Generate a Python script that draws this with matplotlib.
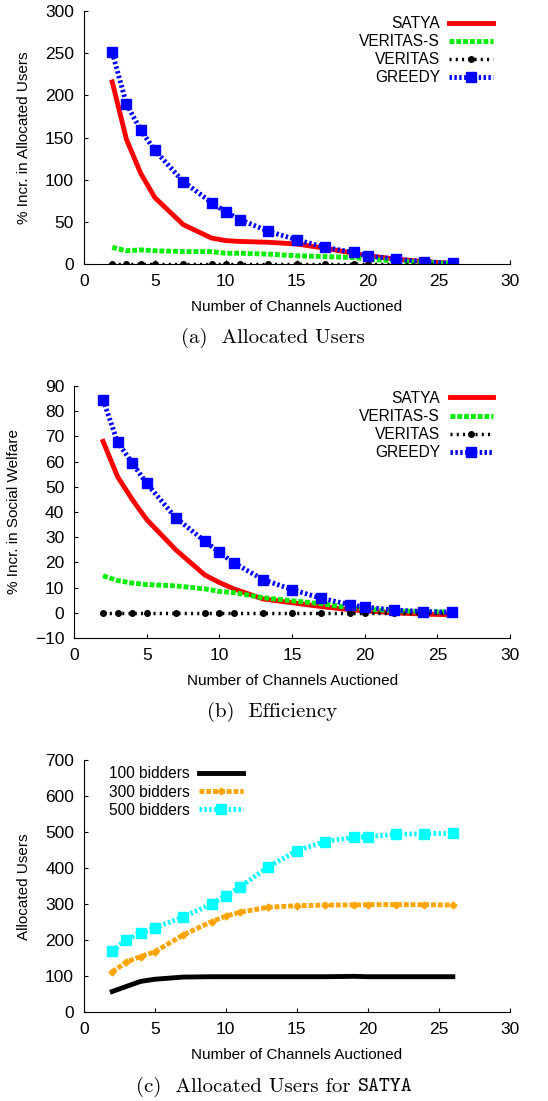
import numpy as np
import matplotlib
matplotlib.use("Agg")
import matplotlib.pyplot as plt

plt.rcParams['font.family'] = ['Liberation Sans', 'DejaVu Sans']

# channels auctioned (x axis, shared)
channels = [2, 3, 4, 5, 7, 9, 10, 11, 13, 15, 17, 19, 20, 22, 24, 26]

# (a) % increase in allocated users
users_satya = [216, 148, 108, 79, 47, 31, 28, 27, 26, 24, 19, 13, 10, 6, 3, 1]
users_veritas_s = [20, 16, 17, 16, 15, 15, 13, 13, 12, 10, 9, 8, 6, 4, 2, 1]
users_veritas = [0] * 16
users_greedy = [251, 190, 159, 135, 98, 73, 62, 53, 39, 29, 20, 14, 10, 6, 3, 1]

# (b) % increase in social welfare
welfare_satya = [68, 54, 45, 37, 25, 15, 12, 9.5, 5.5, 4, 2.5, 1.2, 0.8, 0, -0.5, -0.8]
welfare_veritas_s = [14.7, 12.8, 11.8, 11.2, 10.7, 9.5, 8.5, 8, 6, 4.8, 3.6, 2, 1.5, 0.8, 0.5, 0.3]
welfare_veritas = [0] * 16
welfare_greedy = [84.5, 67.7, 59.5, 51.3, 37.7, 28.4, 24, 19.8, 13.2, 9.2, 5.8, 3.2, 2.3, 1.1, 0.5, 0.2]

# (c) allocated users for SATYA
bid100 = [58, 72, 86, 92, 98, 99, 99, 99, 99, 99, 99, 100, 99, 99, 99, 99]
bid300 = [112, 140, 155, 168, 215, 252, 267, 278, 292, 296, 298, 298, 299, 299, 299, 298]
bid500 = [170, 202, 220, 235, 265, 301, 324, 348, 404, 449, 474, 486, 488, 494, 496, 497]

fig = plt.figure(figsize=(5.48, 11.01), dpi=100)

def style_axes(ax, ymin, ymax, ystep, ylabel):
    ax.set_xlim(0, 30)
    ax.set_ylim(ymin, ymax)
    ax.set_xticks(range(0, 31, 5))
    ax.set_yticks(np.arange(ymin, ymax + 1, ystep))
    ax.spines['top'].set_visible(False)
    ax.spines['right'].set_visible(False)
    ax.tick_params(direction='in', length=3, labelsize=12.5, pad=7)
    ax.set_xlabel('Number of Channels Auctioned', fontsize=11, labelpad=8)
    ax.set_ylabel(ylabel, fontsize=11, labelpad=10)

def draw_schemes(ax, satya, vs, ver, greedy):
    ax.plot(channels, satya, color='red', lw=3.5, label='SATYA')
    ax.plot(channels, vs, color='#00ee00', lw=3.5, ls=(0, (1.0, 0.4)), label='VERITAS-S')
    ax.plot(channels, ver, color='black', lw=2.5, ls=(0, (0.6, 1.2)), marker='o', ms=4, label='VERITAS')
    ax.plot(channels, greedy, color='blue', lw=3.5, ls=(0, (0.5, 0.5)), marker='s', ms=6.5, label='GREEDY')
    ax.legend(loc='upper right', markerfirst=False, frameon=False, fontsize=11.2,
              handlelength=2.8, handletextpad=0.6, labelspacing=0.2,
              borderaxespad=0.0, bbox_to_anchor=(0.975, 1.005))

ax1 = fig.add_axes([0.153, 0.760, 0.777, 0.230])
draw_schemes(ax1, users_satya, users_veritas_s, users_veritas, users_greedy)
style_axes(ax1, 0, 300, 50, '% Incr. in Allocated Users')

ax2 = fig.add_axes([0.135, 0.4205, 0.796, 0.229])
draw_schemes(ax2, welfare_satya, welfare_veritas_s, welfare_veritas, welfare_greedy)
style_axes(ax2, -10, 90, 10, '% Incr. in Social Welfare')

ax3 = fig.add_axes([0.153, 0.0805, 0.777, 0.229])
ax3.plot(channels, bid100, color='black', lw=3.5, label='100 bidders')
ax3.plot(channels, bid300, color='orange', lw=3.5, ls=(0, (1.0, 0.4)), marker='D', ms=3.5, label='300 bidders')
ax3.plot(channels, bid500, color='cyan', lw=3.5, ls=(0, (0.5, 0.5)), marker='s', ms=6.5, label='500 bidders')
ax3.legend(loc='upper left', markerfirst=False, frameon=False, fontsize=11.2,
           handlelength=2.8, handletextpad=0.6, labelspacing=0.2,
           borderaxespad=0.0, bbox_to_anchor=(0.045, 1.0))
style_axes(ax3, 0, 700, 100, 'Allocated Users')

fig.text(273 / 548, 1 - 338 / 1101, '(a)  Allocated Users', family='cmr10', fontsize=15, ha='center', va='center')
fig.text(272 / 548, 1 - 712 / 1101, '(b)  Efficiency', family='cmr10', fontsize=15, ha='center', va='center')
fig.text(351 / 548, 1 - 1087 / 1101, '(c)  Allocated Users for', family='cmr10', fontsize=15, ha='right', va='center')
fig.text(358 / 548, 1 - 1087 / 1101, 'SATYA', family='cmtt10', fontsize=15, ha='left', va='center')

fig.savefig('out.png', dpi=100)
